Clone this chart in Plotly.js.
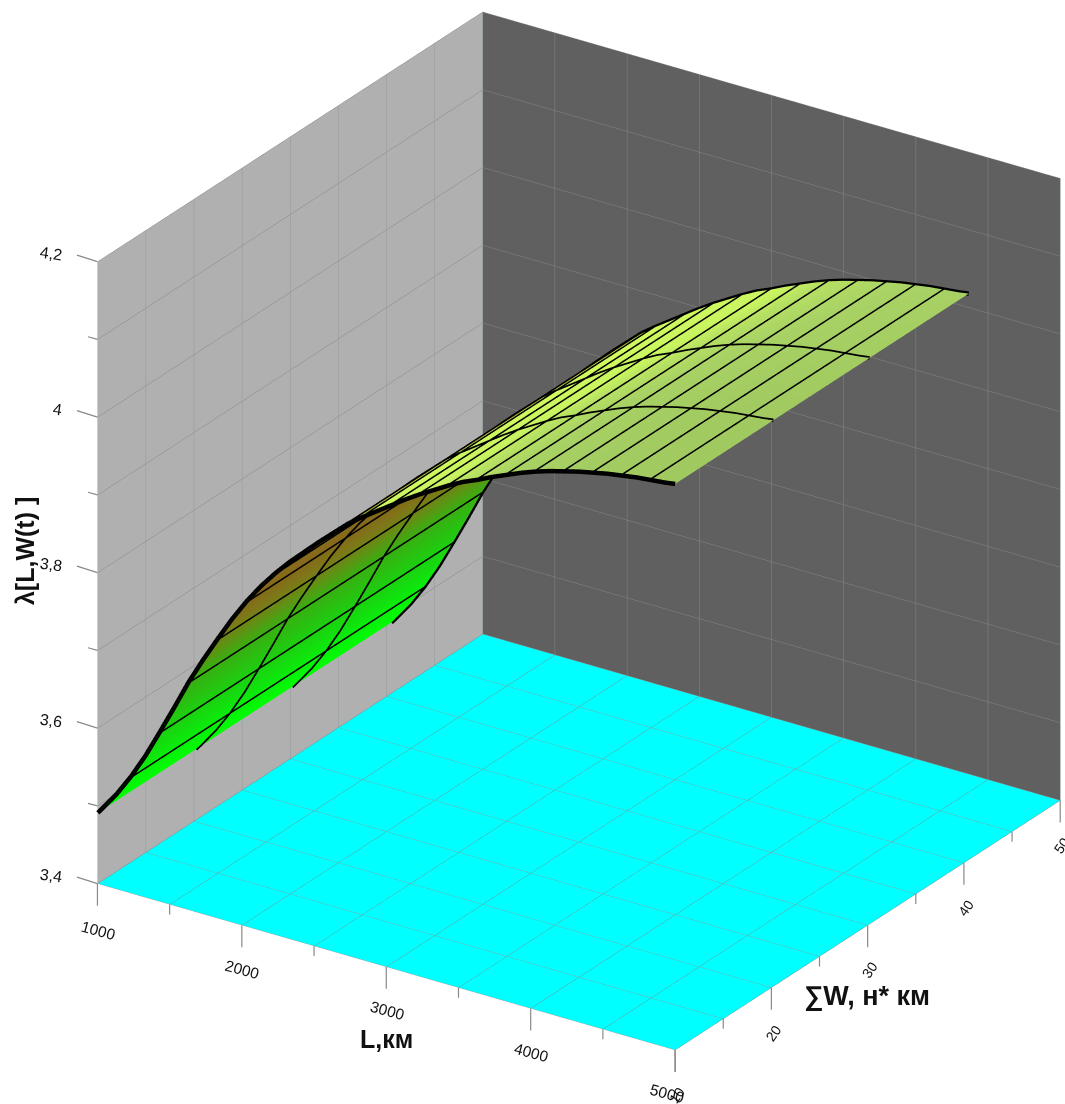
<!DOCTYPE html>
<html><head><meta charset="utf-8">
<script src="https://cdn.plot.ly/plotly-3.0.1.min.js"></script>
<style>html,body{margin:0;padding:0;background:#fff}#c{width:1065px;height:1104px}</style>
</head><body><div id="c"></div>
<script>
const W_values = [10, 20.2, 30.2, 40.5];
const L_values = [1000,1030,1130,1230,1330,1430,1530,1630,1730,1830,1930,2030,2130,2230,2330,2430,2530,2630,2730,2750,2830,2930,3030,3130,3230,3330,3430,3530,3630,3730,3830,3930,4030,4130,4230,4330,4430,4530,4630,4730,4830,4930,5000];
const lambda_values = [3.491,3.498,3.522,3.550,3.582,3.618,3.655,3.693,3.727,3.759,3.790,3.818,3.843,3.865,3.885,3.903,3.921,3.938,3.955,3.958,3.969,3.982,3.995,4.008,4.020,4.031,4.042,4.052,4.060,4.069,4.077,4.085,4.092,4.098,4.103,4.108,4.112,4.116,4.119,4.122,4.124,4.126,4.128];
const L_lines = [1230,1430,1630,1830,2030,2230,2430,2630,2830,3030,3230,3430,3630,3830,4030,4230,4430,4630,4830];
const foldL = 2750;
const top_shade_offset = [0, 0, 0.02, 0.04];
const L_ticks = [1000,1500,2000,2500,3000,3500,4000,4500,5000];
const L_tick_text = ['1000','','2000','','3000','','4000','','5000'];
const W_ticks = [10,15,20,25,30,35,40,45,50];
const W_tick_text = ['10','','20','','30','','40','','50'];
const Z_ticks = [3.4,3.5,3.6,3.7,3.8,3.9,4,4.1,4.2];
const Z_tick_text = ['3,4','','3,6','','3,8','','4','','4,2'];

const underScale = [[0,'#00ff00'],[0.12,'#0aee0c'],[0.27,'#1cd010'],[0.43,'#3aae12'],[0.52,'#609214'],[0.6,'#7c7a18'],[0.7,'#86681a'],[0.9,'#8a7420'],[1,'#a8a028']];
const topScale = [[0,'#d0fa5e'],[0.42,'#c8f460'],[0.54,'#b8e262'],[0.72,'#a8d264'],[1,'#a0ca60']];

const font = 'Liberation Sans, Arial, sans-serif';

function slice(test){
  const idx = L_values.map((v,i)=>i).filter(i=>test(L_values[i]));
  return {x: idx.map(i=>L_values[i]), row: idx.map(i=>lambda_values[i])};
}
function surf(s, scale, shade){
  const t = {type:'surface', x:s.x, y:W_values, z:W_values.map(()=>s.row), colorscale:scale,
    cmin:Math.min(...s.row), cmax:Math.max(...s.row), showscale:false, hoverinfo:'skip',
    lighting:{ambient:1,diffuse:0,specular:0,fresnel:0,roughness:1},
    contours:{x:{highlight:false},y:{highlight:false},z:{highlight:false}}};
  if(shade) t.surfacecolor = shade.map(d=>s.row.map(v=>Math.max(v-d,t.cmin)));
  return t;
}
const under = slice(v=>v<=foldL), over = slice(v=>v>=foldL);
const traces = [surf(under,underScale), surf(over,topScale,top_shade_offset)];

const lx=[],ly=[],lz=[];
L_lines.forEach(l=>{ const z=lambda_values[L_values.indexOf(l)];
  lx.push(l,l,null); ly.push(W_values[0],W_values[3],null); lz.push(z,z,null); });
traces.push({type:'scatter3d',mode:'lines',x:lx,y:ly,z:lz,line:{color:'#000',width:6},hoverinfo:'skip',showlegend:false});
W_values.forEach((w,k)=>{
  traces.push({type:'scatter3d',mode:'lines',x:L_values,y:L_values.map(()=>w),z:lambda_values,
    line:{color:'#000',width:(k===0||k===3)?9:7},hoverinfo:'skip',showlegend:false});
});

const txt = (x,y,z,text,dx,dy,size,angle,bold,anchor)=>({x,y,z,text:bold?'<b>'+text+'</b>':text,showarrow:false,
  xshift:dx,yshift:-dy,textangle:angle,font:{family:font,size,color:'#111'},xanchor:anchor||'center',yanchor:'middle'});
const tick = (x,y,z,ax,ay)=>({x,y,z,text:' ',showarrow:true,arrowhead:0,arrowwidth:1.2,arrowcolor:'#8a8a8a',ax,ay,standoff:0,font:{size:1}});
const ann = [];
L_ticks.forEach((v,i)=>{ const major=L_tick_text[i]!=='';
  ann.push(tick(v,10,3.4,0,major?24:12));
  if(major) ann.push(txt(v,10,3.4,L_tick_text[i],i===8?-8:1,i===0?47:i===8?43:44,15.5,15)); });
W_ticks.forEach((v,i)=>{ const major=W_tick_text[i]!=='';
  ann.push(tick(5000,v,3.4,0,major?24:12));
  if(major) ann.push(txt(5000,v,3.4,W_tick_text[i],2,45,14,-55)); });
Z_ticks.forEach((v,i)=>{ const major=Z_tick_text[i]!=='';
  ann.push(tick(1000,10,v,major?-22:-11,major?-7:-3));
  if(major) ann.push(txt(1000,10,v,Z_tick_text[i],-32,-8,16,8,false,'right')); });
ann.push(txt(3000,10,3.4,'L,км',0,72,25,0,true));
ann.push(txt(5000,30,3.4,'∑W, н* км',-1,71,27,0,true));
ann.push(txt(1000,10,3.8,'λ[L,W(t) ]',-73,-22,25,-90,true));

const axis = (range,dtick,bg,grid)=>({range,dtick,tickmode:'linear',tick0:range[0],showbackground:true,backgroundcolor:bg,
  showgrid:true,gridcolor:grid,gridwidth:1,zeroline:false,showline:false,showticklabels:false,
  ticks:'',showspikes:false,title:{text:''}});
const layout = {width:1065,height:1104,margin:{l:0,r:0,t:0,b:0},paper_bgcolor:'#fff',showlegend:false,
  scene:{domain:{x:[0.087,1],y:[0.038,1]},aspectmode:'manual',aspectratio:{x:1.307,y:1.307,z:1.299},
    camera:{eye:{x:1.0,y:-1.5,z:0.864},center:{x:0,y:0,z:0},up:{x:0,y:0,z:1},projection:{type:'orthographic'}},
    xaxis:axis([1000,5000],500,'#b0b0b0','#7a8c8c'),yaxis:axis([10,50],5,'#606060','#8f9a9a'),zaxis:axis([3.4,4.2],0.1,'#00ffff','#868686'),
    annotations:ann}};
Plotly.newPlot('c',traces,layout,{displayModeBar:false});
</script></body></html>
